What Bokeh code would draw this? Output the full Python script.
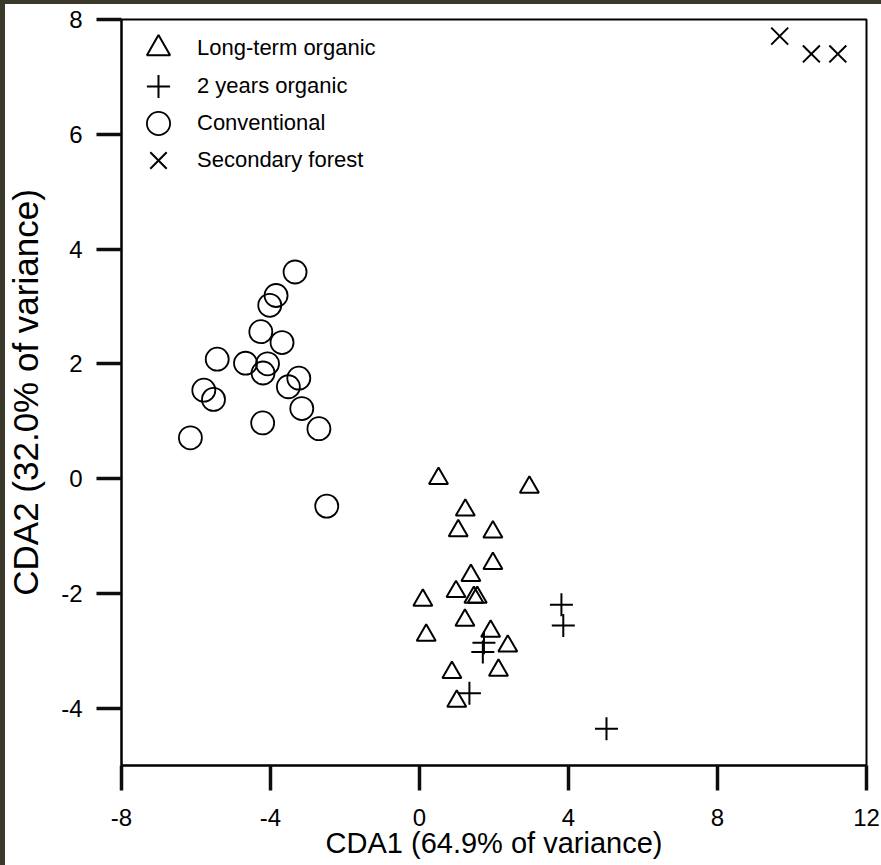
from bokeh.plotting import figure
from bokeh.models import (Range1d, FixedTicker, Legend, LegendItem,
                          CustomJSTickFormatter)
from bokeh.embed import file_html
from bokeh.resources import INLINE

# ---- data ----
lt_x = [0.51, 2.95, 1.23, 1.04, 1.97, 1.97, 1.38, 0.98, 0.09, 1.46, 1.55,
        1.22, 0.18, 1.91, 2.37, 0.87, 2.12, 1.00]
lt_y = [0.00, -0.15, -0.55, -0.91, -0.93, -1.48, -1.69, -1.97, -2.12, -2.07, -2.07,
        -2.47, -2.73, -2.66, -2.92, -3.38, -3.34, -3.88]

y2_x = [1.73, 1.70, 1.34, 3.81, 3.86, 5.02]
y2_y = [-2.86, -3.02, -3.74, -2.20, -2.56, -4.36]

conv_x = [-3.34, -3.85, -4.02, -4.26, -3.69, -5.43, -4.67, -4.08, -4.20, -3.24,
          -3.52, -5.79, -5.53, -3.16, -4.21, -2.70, -6.15, -2.49]
conv_y = [3.60, 3.19, 3.02, 2.56, 2.37, 2.08, 2.01, 2.00, 1.84, 1.75,
          1.60, 1.54, 1.38, 1.22, 0.97, 0.87, 0.71, -0.48]

sf_x = [9.67, 10.52, 11.23]
sf_y = [7.71, 7.40, 7.40]

labels = ["Long-term organic", "2 years organic", "Conventional", "Secondary forest"]
x_ticks = [-8, -4, 0, 4, 8, 12]
y_ticks = [-4, -2, 0, 2, 4, 6, 8]
x_label = "CDA1 (64.9% of variance)"
y_label = "CDA2 (32.0% of variance)"

FONT = "Liberation Sans"
FRAME_H = 746

p = figure(width=881, height=865, output_backend="svg", toolbar_location=None,
           x_range=Range1d(-8, 12), y_range=Range1d(-5, 8),
           min_border_left=121, min_border_right=15, min_border_top=19,
           min_border_bottom=100)
# dark page edge along the left and top of the reference, shown through a
# transparent border fill
p.border_fill_alpha = 0
p.styles = {"background": "linear-gradient(to right, #3b392c 5px, transparent 5px), "
                          "linear-gradient(to bottom, #3b392c 4px, #ffffff 4px)"}
p.background_fill_color = "white"
p.outline_line_color = "black"
p.outline_line_width = 2
p.xgrid.visible = False
p.ygrid.visible = False

fmt = CustomJSTickFormatter(code="return tick.toFixed(0);")
for ax, ticks in ((p.xaxis[0], x_ticks), (p.yaxis[0], y_ticks)):
    ax.ticker = FixedTicker(ticks=ticks)
    ax.formatter = fmt
    ax.axis_line_color = "#000000"
    ax.axis_line_width = 2
    ax.major_tick_line_color = "#0d0d0d"
    ax.major_tick_line_width = 3.5
    ax.major_tick_out = 25
    ax.major_tick_in = 0
    ax.minor_tick_line_color = None
    ax.minor_tick_out = 0
    ax.major_label_text_font = FONT
    ax.major_label_text_font_size = "24px"
    ax.major_label_text_color = "black"
    ax.axis_label_text_font = FONT
    ax.axis_label_text_font_style = "normal"
    ax.axis_label_text_color = "black"

p.xaxis.axis_label = x_label
p.yaxis.axis_label = y_label
p.xaxis.major_label_standoff = 18
p.yaxis.major_label_standoff = 14
p.xaxis.axis_label_text_font_size = "29px"
p.yaxis.axis_label_text_font_size = "35px"
p.xaxis.axis_label_standoff = -2
p.yaxis.axis_label_standoff = 13

r_lt = p.scatter(lt_x, lt_y, marker="triangle", size=19, fill_color=None,
                 line_color="black", line_width=2)
r_y2 = p.scatter(y2_x, y2_y, marker="cross", size=23, line_color="black", line_width=2)
r_cv = p.scatter(conv_x, conv_y, marker="circle", size=23, fill_color=None,
                 line_color="black", line_width=1.8)
r_sf = p.scatter(sf_x, sf_y, marker="x", size=24, line_color="black", line_width=2)

GLYPH = 58
row_tops = [0, 37.5, 75, 112]
for lab, r, t in zip(labels, [r_lt, r_y2, r_cv, r_sf], row_tops):
    lg = Legend(items=[LegendItem(label=lab, renderers=[r])],
                location=(0, FRAME_H - t - GLYPH), margin=0, padding=0, spacing=0,
                glyph_width=74, glyph_height=GLYPH, label_standoff=2,
                label_text_font=FONT, label_text_font_size="22px",
                label_text_color="black",
                background_fill_alpha=0, border_line_color=None)
    p.add_layout(lg)

open("out.html", "w").write(file_html(p, INLINE))
